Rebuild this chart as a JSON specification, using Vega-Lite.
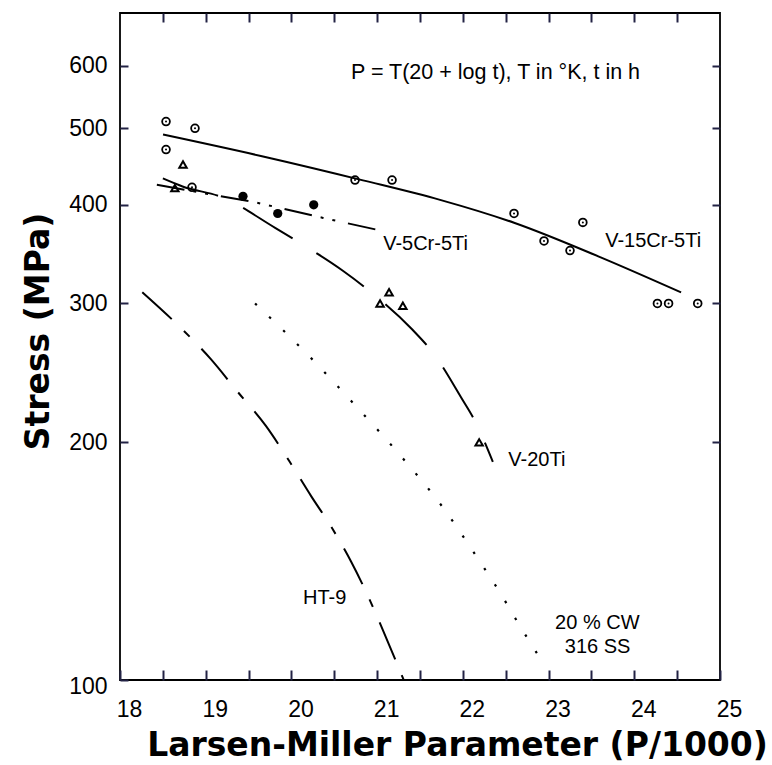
{
  "$schema": "https://vega.github.io/schema/vega-lite/v6.json",
  "width": 600,
  "height": 667,
  "autosize": {"type": "none"},
  "padding": {"left": 120, "top": 13, "right": 52, "bottom": 85},
  "background": "white",
  "config": {
    "view": {"stroke": "black", "strokeWidth": 1.8},
    "axis": {"grid": false, "domain": false, "labelColor": "black", "titleColor": "black", "labelFont": "Liberation Sans", "labelFontSize": 23, "labelFlush": false, "labelOverlap": false}
  },
  "datasets": {
    "curves": [
      {"series": "V-15Cr-5Ti", "P": 18.502, "S": 491},
      {"series": "V-15Cr-5Ti", "P": 19.669, "S": 460.6},
      {"series": "V-15Cr-5Ti", "P": 20.835, "S": 429.6},
      {"series": "V-15Cr-5Ti", "P": 21.734, "S": 405.8},
      {"series": "V-15Cr-5Ti", "P": 22.597, "S": 379.6},
      {"series": "V-15Cr-5Ti", "P": 23.601, "S": 343.4},
      {"series": "V-15Cr-5Ti", "P": 24.546, "S": 309.8},
      {"series": "V-5Cr-5Ti", "P": 18.43, "S": 424},
      {"series": "V-5Cr-5Ti", "P": 19.575, "S": 403},
      {"series": "V-5Cr-5Ti", "P": 20.37, "S": 385},
      {"series": "V-5Cr-5Ti", "P": 21.045, "S": 371},
      {"series": "V-20Ti", "P": 18.5, "S": 432},
      {"series": "V-20Ti", "P": 18.73, "S": 422},
      {"series": "V-20Ti", "P": 19.19, "S": 409},
      {"series": "V-20Ti", "P": 19.81, "S": 374},
      {"series": "V-20Ti", "P": 20.08, "S": 359},
      {"series": "V-20Ti", "P": 20.6, "S": 330},
      {"series": "V-20Ti", "P": 20.88, "S": 313},
      {"series": "V-20Ti", "P": 21.41, "S": 278},
      {"series": "V-20Ti", "P": 21.66, "S": 259},
      {"series": "V-20Ti", "P": 21.98, "S": 228},
      {"series": "V-20Ti", "P": 22.14, "S": 213},
      {"series": "V-20Ti", "P": 22.35, "S": 189},
      {"series": "HT-9", "P": 18.26, "S": 310},
      {"series": "HT-9", "P": 18.67, "S": 282},
      {"series": "HT-9", "P": 19.06, "S": 255},
      {"series": "HT-9", "P": 19.37, "S": 232},
      {"series": "HT-9", "P": 19.7, "S": 210},
      {"series": "HT-9", "P": 19.98, "S": 189},
      {"series": "HT-9", "P": 20.23, "S": 171},
      {"series": "HT-9", "P": 20.47, "S": 156},
      {"series": "HT-9", "P": 20.7, "S": 141},
      {"series": "HT-9", "P": 21.23, "S": 105},
      {"series": "HT-9", "P": 21.31, "S": 100},
      {"series": "316SS", "P": 19.575, "S": 300},
      {"series": "316SS", "P": 20.18, "S": 259},
      {"series": "316SS", "P": 20.742, "S": 223},
      {"series": "316SS", "P": 21.28, "S": 192},
      {"series": "316SS", "P": 21.757, "S": 166},
      {"series": "316SS", "P": 22.166, "S": 143},
      {"series": "316SS", "P": 22.434, "S": 129},
      {"series": "316SS", "P": 22.667, "S": 117},
      {"series": "316SS", "P": 22.9, "S": 106.6}
    ],
    "points": [
      {"series": "V-15Cr-5Ti", "P": 18.537, "S": 510},
      {"series": "V-15Cr-5Ti", "P": 18.875, "S": 500},
      {"series": "V-15Cr-5Ti", "P": 18.537, "S": 470},
      {"series": "V-15Cr-5Ti", "P": 18.84, "S": 421},
      {"series": "V-15Cr-5Ti", "P": 20.742, "S": 430},
      {"series": "V-15Cr-5Ti", "P": 21.174, "S": 430},
      {"series": "V-15Cr-5Ti", "P": 22.597, "S": 390},
      {"series": "V-15Cr-5Ti", "P": 22.947, "S": 360},
      {"series": "V-15Cr-5Ti", "P": 23.25, "S": 350},
      {"series": "V-15Cr-5Ti", "P": 23.4, "S": 380},
      {"series": "V-15Cr-5Ti", "P": 24.27, "S": 300},
      {"series": "V-15Cr-5Ti", "P": 24.4, "S": 300},
      {"series": "V-15Cr-5Ti", "P": 24.74, "S": 300},
      {"series": "V-5Cr-5Ti", "P": 19.435, "S": 410},
      {"series": "V-5Cr-5Ti", "P": 19.84, "S": 390},
      {"series": "V-5Cr-5Ti", "P": 20.26, "S": 400},
      {"series": "V-20Ti", "P": 18.735, "S": 450},
      {"series": "V-20Ti", "P": 18.64, "S": 420},
      {"series": "V-20Ti", "P": 21.034, "S": 300},
      {"series": "V-20Ti", "P": 21.139, "S": 310},
      {"series": "V-20Ti", "P": 21.3, "S": 298},
      {"series": "V-20Ti", "P": 22.19, "S": 200}
    ],
    "labels": [
      {"text": "P = T(20 + log t), T in °K, t in h", "P": 20.695, "S": 587, "size": "big"},
      {"text": "V-15Cr-5Ti", "P": 23.66, "S": 360, "size": "small"},
      {"text": "V-5Cr-5Ti", "P": 21.07, "S": 357, "size": "small"},
      {"text": "V-20Ti", "P": 22.53, "S": 190, "size": "small"},
      {"text": "HT-9", "P": 20.135, "S": 127, "size": "small"},
      {"text": "20 % CW", "P": 23.076, "S": 118, "size": "small"},
      {"text": "316 SS", "P": 23.19, "S": 110, "size": "small"}
    ]
  },
  "layer": [
    {
      "data": {"name": "curves"},
      "transform": [{"filter": "datum.series === 'V-15Cr-5Ti'"}],
      "mark": {"type": "line", "color": "black", "strokeWidth": 2, "interpolate": "monotone"},
      "encoding": {
        "x": {"field": "P", "type": "quantitative", "scale": {"domain": [18, 25], "nice": false, "zero": false},
          "axis": {"orient": "bottom", "values": [18, 18.5, 19, 19.5, 20, 20.5, 21, 21.5, 22, 22.5, 23, 23.5, 24, 24.5, 25],
            "labelExpr": "datum.value % 1 === 0 ? format(datum.value, 'd') : ''",
            "ticks": true, "tickColor": "#222244", "tickWidth": 2, "tickSize": -10,
            "labelPadding": 28, "labelOffset": 9,
            "title": "Larsen-Miller   Parameter   (P/1000)", "titleFont": "DejaVu Sans", "titleFontWeight": "bold", "titleFontSize": 33,
            "titleX": 337, "titleY": 65, "titleAlign": "center", "titleBaseline": "middle"}},
        "y": {"field": "S", "type": "quantitative", "scale": {"type": "log", "domain": [100, 700], "nice": false},
          "axis": {"orient": "left", "values": [100, 200, 300, 400, 500, 600], "format": "d",
            "ticks": true, "tickColor": "#222244", "tickWidth": 2, "tickSize": -8, "labelPadding": 21,
            "labelOffset": {"condition": {"test": "datum.value === 100", "value": 6}, "value": 0},
            "title": "Stress  (MPa)", "titleFont": "DejaVu Sans", "titleFontWeight": "bold", "titleFontSize": 33,
            "titleX": -82, "titleY": 318, "titleAngle": -90, "titleAlign": "center", "titleBaseline": "middle"}}
      }
    },
    {
      "data": {"name": "curves"},
      "transform": [{"filter": "datum.series === 'V-5Cr-5Ti'"}],
      "mark": {"type": "line", "color": "black", "strokeWidth": 2, "strokeDash": [28, 9, 3, 9, 3, 13]},
      "encoding": {
        "x": {"field": "P", "type": "quantitative", "scale": {"domain": [18, 25], "nice": false, "zero": false},
          "axis": {"orient": "top", "values": [18.5, 19, 19.5, 20, 20.5, 21, 21.5, 22, 22.5, 23, 23.5, 24, 24.5], "labels": false,
            "ticks": true, "tickColor": "#222244", "tickWidth": 2, "tickSize": -9, "title": null}},
        "y": {"field": "S", "type": "quantitative", "scale": {"type": "log", "domain": [100, 700], "nice": false},
          "axis": {"orient": "right", "values": [200, 300, 400, 500, 600], "labels": false,
            "ticks": true, "tickColor": "#222244", "tickWidth": 2, "tickSize": -8, "title": null}}
      }
    },
    {
      "data": {"name": "curves"},
      "transform": [{"filter": "datum.series === 'V-20Ti'"}],
      "mark": {"type": "line", "color": "black", "strokeWidth": 2, "interpolate": "monotone", "strokeDash": [58, 28]},
      "encoding": {
        "x": {"field": "P", "type": "quantitative", "axis": null},
        "y": {"field": "S", "type": "quantitative", "axis": null}
      }
    },
    {
      "data": {"name": "curves"},
      "transform": [{"filter": "datum.series === 'HT-9'"}],
      "mark": {"type": "line", "color": "black", "strokeWidth": 2, "interpolate": "monotone", "strokeDash": [40, 17, 8, 17]},
      "encoding": {
        "x": {"field": "P", "type": "quantitative", "axis": null},
        "y": {"field": "S", "type": "quantitative", "axis": null}
      }
    },
    {
      "data": {"name": "curves"},
      "transform": [{"filter": "datum.series === '316SS'"}],
      "mark": {"type": "line", "color": "black", "strokeWidth": 2.2, "interpolate": "monotone", "strokeDash": [2.5, 17]},
      "encoding": {
        "x": {"field": "P", "type": "quantitative", "axis": null},
        "y": {"field": "S", "type": "quantitative", "axis": null}
      }
    },
    {
      "data": {"name": "points"},
      "transform": [{"filter": "datum.series === 'V-15Cr-5Ti'"}],
      "mark": {"type": "point", "shape": "circle", "filled": false, "stroke": "black", "strokeWidth": 1.8, "size": 60, "opacity": 1},
      "encoding": {
        "x": {"field": "P", "type": "quantitative", "axis": null},
        "y": {"field": "S", "type": "quantitative", "axis": null}
      }
    },
    {
      "data": {"name": "points"},
      "transform": [{"filter": "datum.series === 'V-15Cr-5Ti'"}],
      "mark": {"type": "point", "shape": "circle", "filled": true, "color": "black", "size": 4, "opacity": 1},
      "encoding": {
        "x": {"field": "P", "type": "quantitative", "axis": null},
        "y": {"field": "S", "type": "quantitative", "axis": null}
      }
    },
    {
      "data": {"name": "points"},
      "transform": [{"filter": "datum.series === 'V-5Cr-5Ti'"}],
      "mark": {"type": "point", "shape": "circle", "filled": true, "color": "black", "size": 85, "opacity": 1},
      "encoding": {
        "x": {"field": "P", "type": "quantitative", "axis": null},
        "y": {"field": "S", "type": "quantitative", "axis": null}
      }
    },
    {
      "data": {"name": "points"},
      "transform": [{"filter": "datum.series === 'V-20Ti'"}],
      "mark": {"type": "point", "shape": "triangle-up", "filled": false, "stroke": "black", "strokeWidth": 2, "size": 55, "opacity": 1},
      "encoding": {
        "x": {"field": "P", "type": "quantitative", "axis": null},
        "y": {"field": "S", "type": "quantitative", "axis": null}
      }
    },
    {
      "data": {"name": "labels"},
      "transform": [{"filter": "datum.size === 'small'"}],
      "mark": {"type": "text", "font": "Liberation Sans", "fontSize": 20, "color": "black", "align": "left", "baseline": "middle"},
      "encoding": {
        "x": {"field": "P", "type": "quantitative", "axis": null},
        "y": {"field": "S", "type": "quantitative", "axis": null},
        "text": {"field": "text"}
      }
    },
    {
      "data": {"name": "labels"},
      "transform": [{"filter": "datum.size === 'big'"}],
      "mark": {"type": "text", "font": "Liberation Sans", "fontSize": 21.5, "color": "black", "align": "left", "baseline": "middle"},
      "encoding": {
        "x": {"field": "P", "type": "quantitative", "axis": null},
        "y": {"field": "S", "type": "quantitative", "axis": null},
        "text": {"field": "text"}
      }
    }
  ]
}
